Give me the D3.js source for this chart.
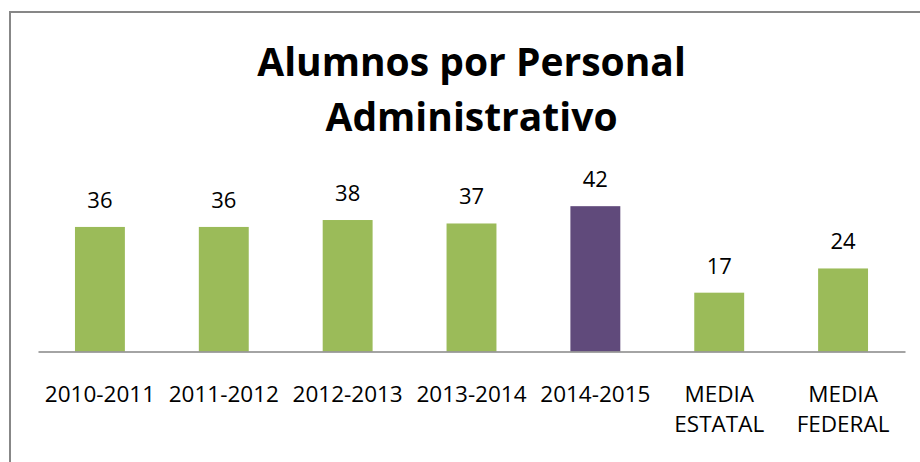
<!DOCTYPE html>
<html>
<head>
<meta charset="utf-8">
<script src="https://cdn.jsdelivr.net/npm/d3@7"></script>
<style>
  html, body { margin: 0; padding: 0; background: #fff; }
  svg { display: block; }
  text { font-family: "Open Sans", "Noto Sans", sans-serif; fill: #000; }
</style>
</head>
<body>
<svg id="chart" width="920" height="462"></svg>
<script>
// Alumnos por personal administrativo, por ciclo escolar y medias de referencia
const categories = [
  ["2010-2011"], ["2011-2012"], ["2012-2013"], ["2013-2014"], ["2014-2015"],
  ["MEDIA", "ESTATAL"], ["MEDIA", "FEDERAL"]
];
const values = [36, 36, 38, 37, 42, 17, 24];
const highlight = [false, false, false, false, true, false, false];
const titleLines = ["Alumnos por Personal", "Administrativo"];

const W = 920, H = 462;
const margin = { left: 38, right: 15, top: 178.5, bottom: 110.5 };
const svg = d3.select("#chart");

// chart frame
svg.append("rect")
  .attr("x", 10).attr("y", 12)
  .attr("width", W).attr("height", H)
  .attr("fill", "none")
  .attr("stroke", "#878787")
  .attr("stroke-width", 2);

const keys = categories.map(c => c.join(" "));
const x = d3.scaleBand()
  .domain(keys)
  .range([margin.left, W - margin.right])
  .paddingInner(0.597)
  .paddingOuter(0.2985);

const y = d3.scaleLinear()
  .domain([0, 50])
  .range([H - margin.bottom, margin.top]);

// title
const title = svg.append("text")
  .attr("text-anchor", "middle")
  .style("font-weight", "bold")
  .style("font-size", "39px");
title.selectAll("tspan")
  .data(titleLines)
  .join("tspan")
  .attr("x", (margin.left + W - margin.right) / 2)
  .attr("y", (d, i) => 76 + i * 55)
  .text(d => d);

// bars
svg.append("g")
  .selectAll("rect")
  .data(values)
  .join("rect")
  .attr("x", (d, i) => x(keys[i]))
  .attr("width", x.bandwidth())
  .attr("y", d => y(d))
  .attr("height", d => y(0) - y(d))
  .attr("fill", (d, i) => highlight[i] ? "#604A7B" : "#9BBB59");

// value labels
svg.append("g")
  .selectAll("text")
  .data(values)
  .join("text")
  .attr("text-anchor", "middle")
  .style("font-size", "22px")
  .attr("x", (d, i) => x(keys[i]) + x.bandwidth() / 2)
  .attr("y", d => y(d) - 19)
  .text(d => d);

// category axis
const xAxis = d3.axisBottom(x).tickSize(0).tickFormat(() => "");
const axisG = svg.append("g")
  .attr("transform", `translate(0,${y(0)})`)
  .call(xAxis);
axisG.select(".domain")
  .attr("stroke", "#868686")
  .attr("stroke-width", 1.6);

axisG.selectAll(".tick").each(function(d, i) {
  const t = d3.select(this).select("text")
    .attr("y", 0)
    .attr("dy", null)
    .style("font-size", "22.5px")
    .style("font-family", "\"Open Sans\", sans-serif")
    .attr("fill", "#000");
  t.selectAll("tspan")
    .data(categories[i])
    .join("tspan")
    .attr("x", 0)
    .attr("y", (s, j) => 50 + j * 30)
    .text(s => s);
});
</script>
</body>
</html>
